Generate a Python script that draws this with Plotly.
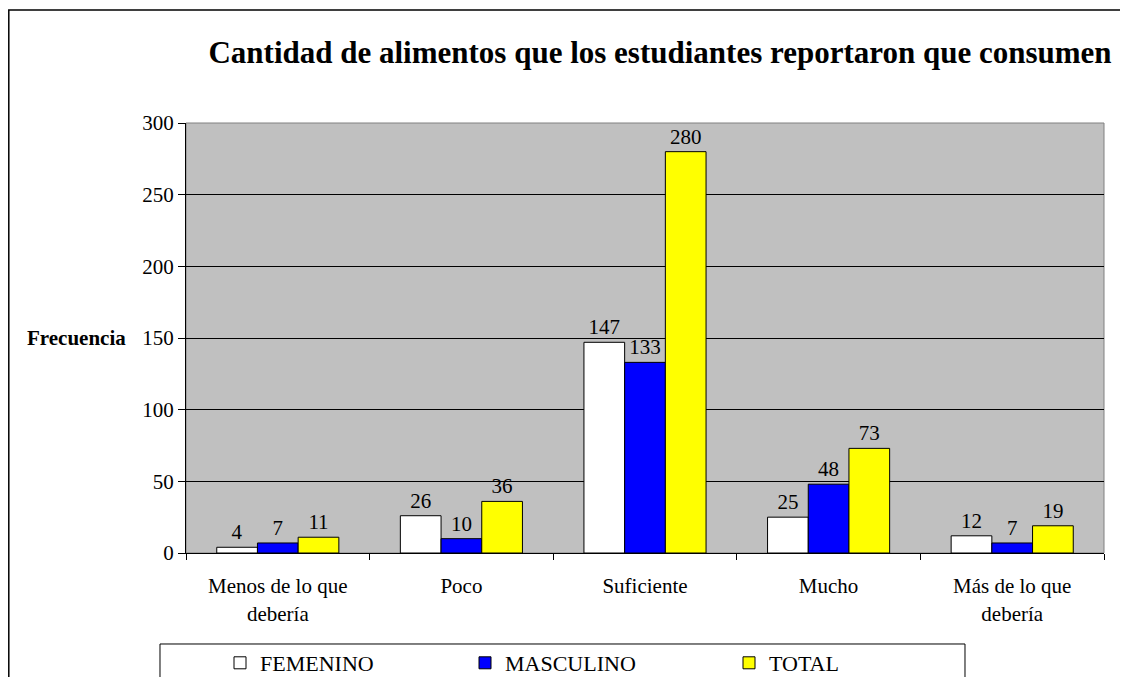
import plotly.graph_objects as go

categories = ["Menos de lo que<br>debería", "Poco", "Suficiente", "Mucho", "Más de lo que<br>debería"]
femenino = [4, 26, 147, 25, 12]
masculino = [7, 10, 133, 48, 7]
total = [11, 36, 280, 73, 19]

series = [
    ("FEMENINO", femenino, "#FFFFFF"),
    ("MASCULINO", masculino, "#0000FF"),
    ("TOTAL", total, "#FFFF00"),
]

# page has an 8px body margin; figure is sized to fit the window exactly
OFF = 8
FW, FH = 1128 - 2 * OFF, 685 - 2 * OFF


def px(X):
    return (X - OFF) / FW


def py(Y):
    return 1 - (Y - OFF) / FH


font = "Liberation Serif, Times New Roman, serif"
legend_ids = ["legend", "legend2", "legend3"]
legend_x = [220, 465, 729]

fig = go.Figure()
for (name, vals, col), lid in zip(series, legend_ids):
    fig.add_trace(go.Bar(
        x=categories, y=vals, name=name, legend=lid,
        marker=dict(color=col, line=dict(color="black", width=1)),
        text=[str(v) for v in vals], textposition="outside",
        textfont=dict(family=font, size=21, color="black"),
        cliponaxis=False,
    ))

x0p, x1p = px(186), px(1104)
y0p, y1p = py(553), py(123)

outer = "M {:.5f},0 L {:.5f},{:.5f} L 1,{:.5f}".format(px(8.8), px(8.8), py(10), py(10))
legbox = "M {a:.5f},0 L {a:.5f},{t:.5f} L {b:.5f},{t:.5f} L {b:.5f},0".format(a=px(160), b=px(965), t=py(644))

legend_style = dict(orientation="h", xanchor="left", y=py(642), yanchor="top",
                    bgcolor="rgba(0,0,0,0)", borderwidth=0,
                    font=dict(family=font, size=22, color="black"), itemclick=False)

fig.update_layout(
    width=FW, height=FH,
    autosize=False,
    margin=dict(l=0, r=0, t=0, b=0, pad=0, autoexpand=False),
    paper_bgcolor="white",
    plot_bgcolor="#C0C0C0",
    barmode="group", bargap=0.335, bargroupgap=0,
    font=dict(family=font, size=21, color="black"),
    title=dict(text="<b>Cantidad de alimentos que los estudiantes reportaron que consumen</b>",
               x=px(660), xanchor="center", y=py(52), yanchor="middle",
               font=dict(family=font, size=31, color="black")),
    xaxis=dict(domain=[x0p, x1p], showline=True, linecolor="black", linewidth=1,
               ticks="outside", tickson="boundaries", ticklen=6, tickcolor="black",
               ticklabelstandoff=14,
               tickfont=dict(family=font, size=21), showgrid=False, automargin=False),
    yaxis=dict(domain=[y0p, y1p], range=[0, 300], tickvals=[0, 50, 100, 150, 200, 250, 300],
               showline=True, linecolor="black", linewidth=1,
               ticks="outside", ticklen=7, tickcolor="black",
               showgrid=True, gridcolor="black", gridwidth=1, zeroline=False,
               tickfont=dict(family=font, size=21), automargin=False),
    showlegend=True,
    legend=dict(x=px(legend_x[0]), **legend_style),
    legend2=dict(x=px(legend_x[1]), **legend_style),
    legend3=dict(x=px(legend_x[2]), **legend_style),
    shapes=[
        dict(type="rect", xref="paper", yref="paper", x0=x0p, x1=x1p, y0=y0p, y1=y1p,
             line=dict(color="#808080", width=1), fillcolor="rgba(0,0,0,0)", layer="below"),
        dict(type="path", xref="paper", yref="paper", path=outer,
             line=dict(color="black", width=1.5)),
        dict(type="path", xref="paper", yref="paper", path=legbox,
             line=dict(color="black", width=1)),
    ],
    annotations=[
        dict(text="<b>Frecuencia</b>", xref="paper", yref="paper", x=px(128), xanchor="right",
             y=py(338), yanchor="middle", showarrow=False,
             font=dict(family=font, size=21, color="black")),
    ],
)

fig.write_html("out.html")
